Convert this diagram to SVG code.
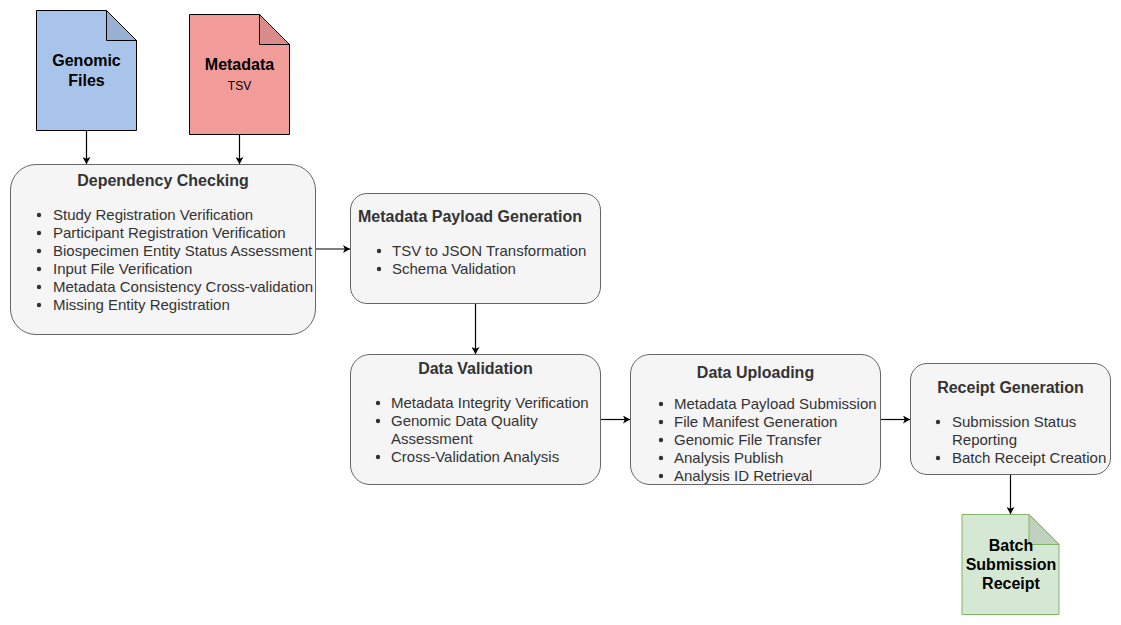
<svg xmlns="http://www.w3.org/2000/svg" width="1121" height="625" viewBox="0 0 1121 625">
<style>
text{font-family:"Liberation Sans",Arial,sans-serif;}
.box{fill:#f5f5f5;stroke:#666;stroke-width:1;}
.t{font-size:16px;font-weight:bold;fill:#333;text-anchor:middle;}
.i{font-size:15px;fill:#333;}
.d{fill:#333;}
.n{font-size:16px;font-weight:bold;fill:#000;text-anchor:middle;}
.c{fill:none;stroke:#000;stroke-width:1.2;marker-end:url(#a);}
</style>
<defs><marker id="a" markerWidth="8" markerHeight="8" refX="7" refY="4" orient="auto" markerUnits="userSpaceOnUse"><path d="M0 0L7 4L0 8L1.8 4Z" fill="#000"/></marker></defs>
<rect width="1121" height="625" fill="#fff"/>
<g id="connectors">
<path class="c" d="M86.500 130V164"/>
<path class="c" d="M239.500 134V164"/>
<path class="c" d="M316 249H350"/>
<path class="c" d="M475.500 304V354"/>
<path class="c" d="M601 419.500H630"/>
<path class="c" d="M881 419.500H910"/>
<path class="c" d="M1010.500 474.500V514"/>
</g>
<g id="genomic-files">
<path d="M36.500 10.500H106.500L136.500 40.500V130.500H36.500Z" fill="#a9c4eb" stroke="#000"/>
<path d="M106.500 10.500L136.500 40.500H106.500Z" fill="#99b1d4" stroke="#000"/>
<text class="n" x="86.500" y="66">Genomic</text><text class="n" x="86.500" y="86">Files</text>
</g>
<g id="metadata">
<path d="M189.500 14.500H259.500L289.500 44.500V134.500H189.500Z" fill="#f19c99" stroke="#000"/>
<path d="M259.500 14.500L289.500 44.500H259.500Z" fill="#d98c8a" stroke="#000"/>
<text class="n" x="239.500" y="70">Metadata</text><text x="239.500" y="90" font-size="12px" text-anchor="middle" fill="#000">TSV</text>
</g>
<g id="dependency-checking">
<rect class="box" x="10.500" y="164.500" width="305" height="170" rx="25.500"/>
<text class="t" x="163" y="186">Dependency Checking</text>
<g class="d"><circle cx="39" cy="215" r="2.200"/><circle cx="39" cy="233" r="2.200"/><circle cx="39" cy="251" r="2.200"/><circle cx="39" cy="269" r="2.200"/><circle cx="39" cy="287" r="2.200"/><circle cx="39" cy="305" r="2.200"/></g>
<text class="i" x="53" y="220">Study Registration Verification</text>
<text class="i" x="53" y="238">Participant Registration Verification</text>
<text class="i" x="53" y="256">Biospecimen Entity Status Assessment</text>
<text class="i" x="53" y="274">Input File Verification</text>
<text class="i" x="53" y="292">Metadata Consistency Cross-validation</text>
<text class="i" x="53" y="310">Missing Entity Registration</text>
</g>
<g id="metadata-payload-generation">
<rect class="box" x="350.500" y="193.500" width="250" height="110" rx="16.500"/>
<text class="t" x="470" y="222">Metadata Payload Generation</text>
<g class="d"><circle cx="379" cy="251" r="2.200"/><circle cx="379" cy="269" r="2.200"/></g>
<text class="i" x="392" y="256">TSV to JSON Transformation</text>
<text class="i" x="392" y="274">Schema Validation</text>
</g>
<g id="data-validation">
<rect class="box" x="350.500" y="354.500" width="250" height="130" rx="19.500"/>
<text class="t" x="475.500" y="374">Data Validation</text>
<g class="d"><circle cx="378" cy="403" r="2.200"/><circle cx="378" cy="421" r="2.200"/><circle cx="378" cy="457" r="2.200"/></g>
<text class="i" x="391" y="408">Metadata Integrity Verification</text>
<text class="i" x="391" y="426">Genomic Data Quality</text>
<text class="i" x="391" y="444">Assessment</text>
<text class="i" x="391" y="462">Cross-Validation Analysis</text>
</g>
<g id="data-uploading">
<rect class="box" x="630.500" y="354.500" width="250" height="130" rx="19.500"/>
<text class="t" x="755.500" y="378">Data Uploading</text>
<g class="d"><circle cx="661" cy="404" r="2.200"/><circle cx="661" cy="422" r="2.200"/><circle cx="661" cy="440" r="2.200"/><circle cx="661" cy="458" r="2.200"/><circle cx="661" cy="476" r="2.200"/></g>
<text class="i" x="674" y="409">Metadata Payload Submission</text>
<text class="i" x="674" y="427">File Manifest Generation</text>
<text class="i" x="674" y="445">Genomic File Transfer</text>
<text class="i" x="674" y="463">Analysis Publish</text>
<text class="i" x="674" y="481">Analysis ID Retrieval</text>
</g>
<g id="receipt-generation">
<rect class="box" x="910.500" y="363.500" width="200" height="111" rx="16.500"/>
<text class="t" x="1010.500" y="393">Receipt Generation</text>
<g class="d"><circle cx="938" cy="422" r="2.200"/><circle cx="938" cy="458" r="2.200"/></g>
<text class="i" x="952" y="427">Submission Status</text>
<text class="i" x="952" y="445">Reporting</text>
<text class="i" x="952" y="463">Batch Receipt Creation</text>
</g>
<g id="batch-submission-receipt">
<path d="M962 514.500H1029L1059 544.500V614.500H962Z" fill="#d5e8d4" stroke="#82b366"/>
<path d="M1029 514.500L1059 544.500H1029Z" fill="#c0d1bf" stroke="#82b366"/>
<text class="n" x="1011" y="551">Batch</text><text class="n" x="1011" y="570">Submission</text><text class="n" x="1011" y="589">Receipt</text>
</g>
</svg>
